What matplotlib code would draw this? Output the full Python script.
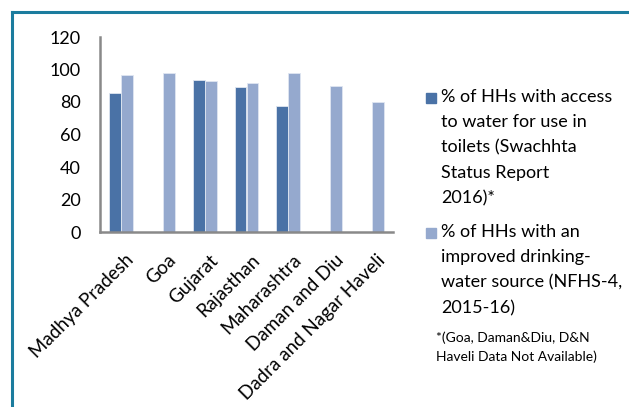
import matplotlib
matplotlib.use("Agg")
import numpy as np
from matplotlib import pyplot as plt
from matplotlib.lines import Line2D
from matplotlib.patches import Rectangle
from matplotlib.transforms import ScaledTranslation

plt.rcParams['font.family'] = ['Lato', 'DejaVu Sans']

states = ['Madhya Pradesh', 'Goa', 'Gujarat', 'Rajasthan', 'Maharashtra',
          'Daman and Diu', 'Dadra and Nagar Haveli']
# toilets water access (NaN = not available)
toilet_water = [85.5, np.nan, 93.4, 89.2, 77.8, np.nan, np.nan]
drinking_water = [96.6, 97.8, 92.7, 91.5, 97.7, 89.7, 80.0]

label1 = '% of HHs with access\nto water for use in\ntoilets (Swachhta\nStatus Report\n2016)*'
label2 = '% of HHs with an\nimproved drinking-\nwater source (NFHS-4,\n2015-16)'
note = '*(Goa, Daman&Diu, D&N\nHaveli Data Not Available)'

dark = '#4A72A6'
light = '#95A9CE'

fig = plt.figure(figsize=(6.29, 4.07), dpi=100)
ax = fig.add_axes([100/629, 1 - 232/407, 293/629, 195/407])

x = np.arange(len(states))
w = 1 / 3.5
ax.bar(x - w/2, toilet_water, width=w, color=dark, edgecolor='#dfe6f1', linewidth=0.6)
ax.bar(x + w/2, drinking_water, width=w, color=light, edgecolor='#dfe6f1', linewidth=0.6)

ax.set_xlim(-0.5, len(states) - 0.5)
ax.set_ylim(0, 120)
ax.set_yticks(range(0, 121, 20))
ax.tick_params(axis='y', length=0, pad=14, labelsize=13)
ax.tick_params(axis='x', length=0, pad=14, labelsize=13.5)
ax.set_xticks(x)
ax.set_xticklabels(states, rotation=45, ha='right', rotation_mode='anchor')
shift = ScaledTranslation(3/72, 0, fig.dpi_scale_trans)
for lbl in ax.get_xticklabels():
    lbl.set_transform(lbl.get_transform() + shift)

for s in ['top', 'right']:
    ax.spines[s].set_visible(False)
for s in ['left', 'bottom']:
    ax.spines[s].set_color('#898989')
    ax.spines[s].set_linewidth(1.8)

# legend drawn by hand so squares line up with first text line
fig.patches.append(Rectangle((426/629, 1 - 103/407), 10/629, 10/407,
                             transform=fig.transFigure, color=dark))
fig.text(441/629, 1 - 89/407, label1, fontsize=13, va='top', linespacing=1.72)
fig.patches.append(Rectangle((426/629, 1 - 238/407), 10/629, 10/407,
                             transform=fig.transFigure, color=light))
fig.text(441/629, 1 - 224/407, label2, fontsize=13, va='top', linespacing=1.72)
fig.text(436/629, 1 - 331/407, note, fontsize=10, va='top', linespacing=1.65)

# outer frame
fc = '#1B7C9E'
fig.lines.append(Line2D([12/629, 1], [1 - 12/407, 1 - 12/407], transform=fig.transFigure,
                        color=fc, linewidth=2.2))
fig.lines.append(Line2D([12/629, 12/629], [0, 1 - 12/407], transform=fig.transFigure,
                        color=fc, linewidth=2.2))

fig.savefig('out.png', dpi=100)
